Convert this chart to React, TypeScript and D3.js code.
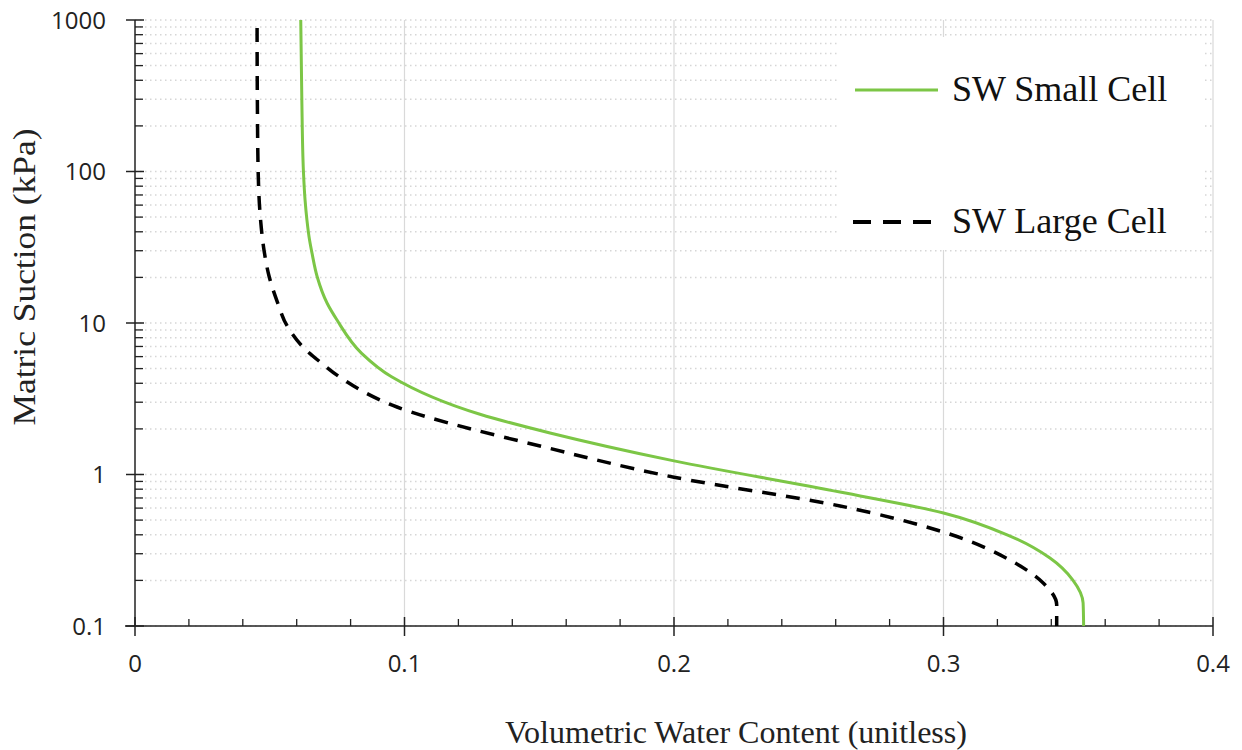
import React from "react";
import * as d3 from "d3";

// Matric suction (kPa) and volumetric water content
const smallSuction = [1000, 300, 100, 65, 47.8, 35, 28.8, 20.2, 13.5, 10.5, 6.31, 4.42, 2.5, 1.88, 1.23, 0.766, 0.557, 0.4, 0.281, 0.201, 0.142, 0.1];
const smallTheta = [0.0615, 0.0619, 0.0625, 0.0631, 0.0638, 0.0648, 0.0657, 0.0676, 0.0713, 0.0749, 0.0841, 0.0952, 0.128, 0.154, 0.2, 0.2616, 0.3, 0.3236, 0.3395, 0.348, 0.3518, 0.352];

const largeSuction = [885, 300, 100, 47.8, 30, 20.2, 13.8, 9.46, 6.98, 5.42, 4.31, 2.79, 1.5, 0.96, 0.62, 0.417, 0.264, 0.192, 0.138, 0.1];
const largeTheta = [0.0453, 0.0454, 0.0457, 0.0466, 0.0479, 0.0498, 0.0528, 0.0566, 0.0622, 0.0693, 0.0767, 0.0972, 0.153, 0.2, 0.2616, 0.3, 0.326, 0.337, 0.342, 0.342];

const xTicks = [0, 0.1, 0.2, 0.3, 0.4];
const xTickLabels = ["0", "0.1", "0.2", "0.3", "0.4"];
const yTicks = [0.1, 1, 10, 100, 1000];
const yTickLabels = ["0.1", "1", "10", "100", "1000"];
const seriesNames = ["SW Small Cell", "SW Large Cell"];

const W = 1242;
const H = 750;
const L = 135, R = 1213, T = 20, B = 626;

export default function App() {
  const x = d3.scaleLinear().domain([0, 0.4]).range([L, R]);
  const y = d3.scaleLog().domain([0.1, 1000]).range([B, T]);

  const minorY: number[] = [];
  for (let e = -1; e < 3; e++) {
    for (let m = 2; m <= 9; m++) minorY.push(m * Math.pow(10, e));
  }
  const allGridY = [...yTicks, ...minorY];
  const minorX = d3.range(0, 0.4001, 0.02).filter((v) => Math.abs(v * 10 - Math.round(v * 10)) > 1e-6);

  const line = d3
    .line<[number, number]>()
    .x((d) => x(d[0]))
    .y((d) => y(d[1]))
    .curve(d3.curveMonotoneY);

  const smallPts: [number, number][] = smallTheta.map((t, i) => [t, smallSuction[i]]);
  const largePts: [number, number][] = largeTheta.map((t, i) => [t, largeSuction[i]]);

  const tickFont = "'Open Sans', 'DejaVu Sans', sans-serif";
  const serif = "'Liberation Serif', 'DejaVu Serif', serif";

  return (
    <div style={{ position: "absolute", left: 0, top: 0 }}>
      <svg width={W} height={H} style={{ display: "block", background: "#fff" }}>
        {/* dotted horizontal grid */}
        {allGridY.map((v, i) => (
          <line key={"gy" + i} x1={L} x2={R} y1={y(v)} y2={y(v)} stroke="#d6d6d6" strokeWidth={1.5} strokeDasharray="1.5,3.5" />
        ))}
        {/* vertical major grid */}
        {xTicks.slice(1).map((v, i) => (
          <line key={"gx" + i} x1={x(v)} x2={x(v)} y1={T} y2={B} stroke="#d9d9d9" strokeWidth={1.2} />
        ))}

        {/* legend box */}
        <rect x={840} y={37} width={362} height={213} fill="#fff" />

        {/* axes */}
        <line x1={L} x2={L} y1={T} y2={B} stroke="#222" strokeWidth={1.5} />
        <line x1={L - 10} x2={R} y1={B} y2={B} stroke="#222" strokeWidth={1.5} />
        {yTicks.map((v, i) => (
          <line key={"yt" + i} x1={L - 9} x2={L + 9} y1={y(v)} y2={y(v)} stroke="#222" strokeWidth={1.5} />
        ))}
        {minorY.map((v, i) => (
          <line key={"ym" + i} x1={L} x2={L + 8} y1={y(v)} y2={y(v)} stroke="#222" strokeWidth={1.3} />
        ))}
        {xTicks.map((v, i) => (
          <line key={"xt" + i} x1={x(v)} x2={x(v)} y1={B - 9} y2={B + 10} stroke="#222" strokeWidth={1.5} />
        ))}
        {minorX.map((v, i) => (
          <line key={"xm" + i} x1={x(v)} x2={x(v)} y1={B - 7} y2={B} stroke="#222" strokeWidth={1.3} />
        ))}

        {/* tick labels */}
        {yTicks.map((v, i) => (
          <text key={"yl" + i} x={106} y={y(v)} dy="0.36em" textAnchor="end" fontFamily={tickFont} fontSize={24} fill="#222">
            {yTickLabels[i]}
          </text>
        ))}
        {xTicks.map((v, i) => (
          <text key={"xl" + i} x={x(v)} y={672} textAnchor="middle" fontFamily={tickFont} fontSize={24} fill="#222">
            {xTickLabels[i]}
          </text>
        ))}

        {/* axis titles */}
        <text x={736} y={743} textAnchor="middle" fontFamily={serif} fontSize={31} fill="#222" textLength={462} lengthAdjust="spacingAndGlyphs">
          Volumetric Water Content (unitless)
        </text>
        <text transform="translate(35,277) rotate(-90)" textAnchor="middle" fontFamily={serif} fontSize={31} fill="#222" textLength={297} lengthAdjust="spacingAndGlyphs">
          Matric Suction (kPa)
        </text>

        {/* curves */}
        <path d={line(largePts) || ""} fill="none" stroke="#000" strokeWidth={3.5} strokeDasharray="14,10" />
        <path d={line(smallPts) || ""} fill="none" stroke="#7cc646" strokeWidth={3} />

        {/* legend */}
        <line x1={855} x2={938} y1={90} y2={90} stroke="#7cc646" strokeWidth={3} />
        <text x={952} y={101} fontFamily={serif} fontSize={36} fill="#111">{seriesNames[0]}</text>
        <line x1={853} x2={938} y1={222} y2={222} stroke="#000" strokeWidth={4} strokeDasharray="18,12" />
        <text x={952} y={233} fontFamily={serif} fontSize={36} fill="#111">{seriesNames[1]}</text>
      </svg>
    </div>
  );
}
